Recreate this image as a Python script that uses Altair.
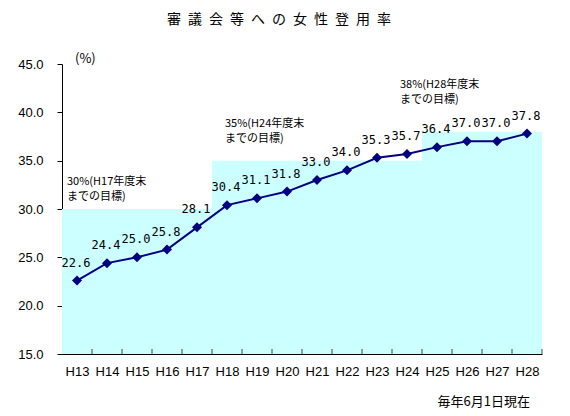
import altair as alt
import pandas as pd

# ---- data ----
categories = ["H13", "H14", "H15", "H16", "H17", "H18", "H19", "H20",
              "H21", "H22", "H23", "H24", "H25", "H26", "H27", "H28"]
rates = [22.6, 24.4, 25.0, 25.8, 28.1, 30.4, 31.1, 31.8,
         33.0, 34.0, 35.3, 35.7, 36.4, 37.0, 37.0, 37.8]

goal_targets = [30, 35, 38]
goal_first = ["H13", "H18", "H25"]
goal_last = ["H17", "H24", "H28"]
goal_labels = ["30%(H17年度末\nまでの目標)",
               "35%(H24年度末\nまでの目標)",
               "38%(H28年度末\nまでの目標)"]

title_text = "審議会等への女性登用率"
unit_text = "(%)"
footer_text = "毎年6月1日現在"

# ---- tables ----
idx = {c: i for i, c in enumerate(categories)}
df = pd.DataFrame({"cat": categories, "i": list(range(len(categories))), "rate": rates})
df["label"] = [f"{v:.1f}" for v in rates]

goals = pd.DataFrame({
    "x0": [idx[c] - 0.5 for c in goal_first],
    "x1": [idx[c] + 0.5 for c in goal_last],
    "target": goal_targets,
    "base": [15] * 3,
    "label": goal_labels,
})

bounds = pd.DataFrame({"b": [i + 0.5 for i in range(len(categories))]})

NAVY = "#000080"
FILL = "#CCFFFF"
JP = "Noto Sans CJK JP"

label_expr = "[" + ",".join(f"'{c}'" for c in categories) + "][datum.value]"

xscale = alt.Scale(domain=[-0.5, len(categories) - 0.5], nice=False, zero=False)
yscale = alt.Scale(domain=[15, 45], nice=False, zero=False)

xaxis = alt.Axis(values=list(range(len(categories))), labelExpr=label_expr,
                 ticks=False, grid=False, title=None, domainColor="black",
                 labelFont="Liberation Sans", labelFontSize=13, labelColor="black",
                 labelPadding=11, labelOverlap=False, labelBound=False, labelFlush=False)
yaxis = alt.Axis(values=[15, 20, 25, 30, 35, 40, 45], format=".1f", grid=False,
                 title=None, tickSize=5, tickColor="black", domainColor="black",
                 labelFont="Liberation Sans", labelFontSize=13, labelColor="black",
                 labelPadding=14, labelOverlap=False)


def X(field):
    return alt.X(field, scale=xscale, axis=xaxis)


def Y(field):
    return alt.Y(field, scale=yscale, axis=yaxis)


rects = alt.Chart(goals).mark_rect(color=FILL).encode(
    x=X("x0:Q"), x2="x1:Q", y=Y("base:Q"), y2="target:Q",
)

ticks = alt.Chart(bounds).mark_tick(orient="vertical", size=5, thickness=1,
                                    color="black", yOffset=-2.5).encode(
    x=X("b:Q"), y=alt.Y(datum=15, scale=yscale, axis=yaxis),
)

line = alt.Chart(df).mark_line(color=NAVY, strokeWidth=2).encode(
    x=X("i:Q"), y=Y("rate:Q"),
)

points = alt.Chart(df).mark_point(shape="diamond", size=100, filled=True,
                                  color=NAVY, opacity=1).encode(
    x=X("i:Q"), y=Y("rate:Q"),
)

values = alt.Chart(df).mark_text(font="DejaVu Sans Mono", fontSize=12, color="black",
                                 baseline="alphabetic", dy=-14, dx=-1).encode(
    x=X("i:Q"), y=Y("rate:Q"), text="label:N",
)

offsets = [(5, -33), (13, -43), (-22, -53)]
goal_texts = []
for k, (ddx, ddy) in enumerate(offsets):
    goal_texts.append(
        alt.Chart(goals.iloc[[k]]).mark_text(
            font=JP, fontSize=11, color="black", align="left", baseline="top",
            lineBreak="\n", lineHeight=15, dx=ddx, dy=ddy,
        ).encode(x=X("x0:Q"), y=Y("target:Q"), text="label:N")
    )

unit = alt.Chart(pd.DataFrame({"t": [unit_text]})).mark_text(
    font=JP, fontSize=13, color="black", align="left", baseline="middle", dx=13, dy=-5
).encode(x=alt.X(datum=-0.5, scale=xscale, axis=xaxis),
         y=alt.Y(datum=45, scale=yscale, axis=yaxis), text="t:N")

footer = alt.Chart(pd.DataFrame({"t": [footer_text]})).mark_text(
    font=JP, fontSize=13, color="black", align="right", baseline="middle", dx=-12, dy=48
).encode(x=alt.X(datum=len(categories) - 0.5, scale=xscale, axis=xaxis),
         y=alt.Y(datum=15, scale=yscale, axis=yaxis), text="t:N")

chart = alt.layer(rects, ticks, line, points, values, *goal_texts, unit, footer).properties(
    width=480,
    height=290,
    autosize=alt.AutoSizeParams(type="none"),
    padding={"left": 54, "top": 56, "right": 20, "bottom": 62},
    title=alt.TitleParams("\u2002".join(title_text), font=JP, fontSize=14,
                          fontWeight="normal", color="black", anchor="middle",
                          dx=-23, offset=26),
    background="white",
).configure_view(stroke=None).configure_axisX(labelOverlap=False)

chart.save("out.html", embed_options={"renderer": "svg", "actions": False})
